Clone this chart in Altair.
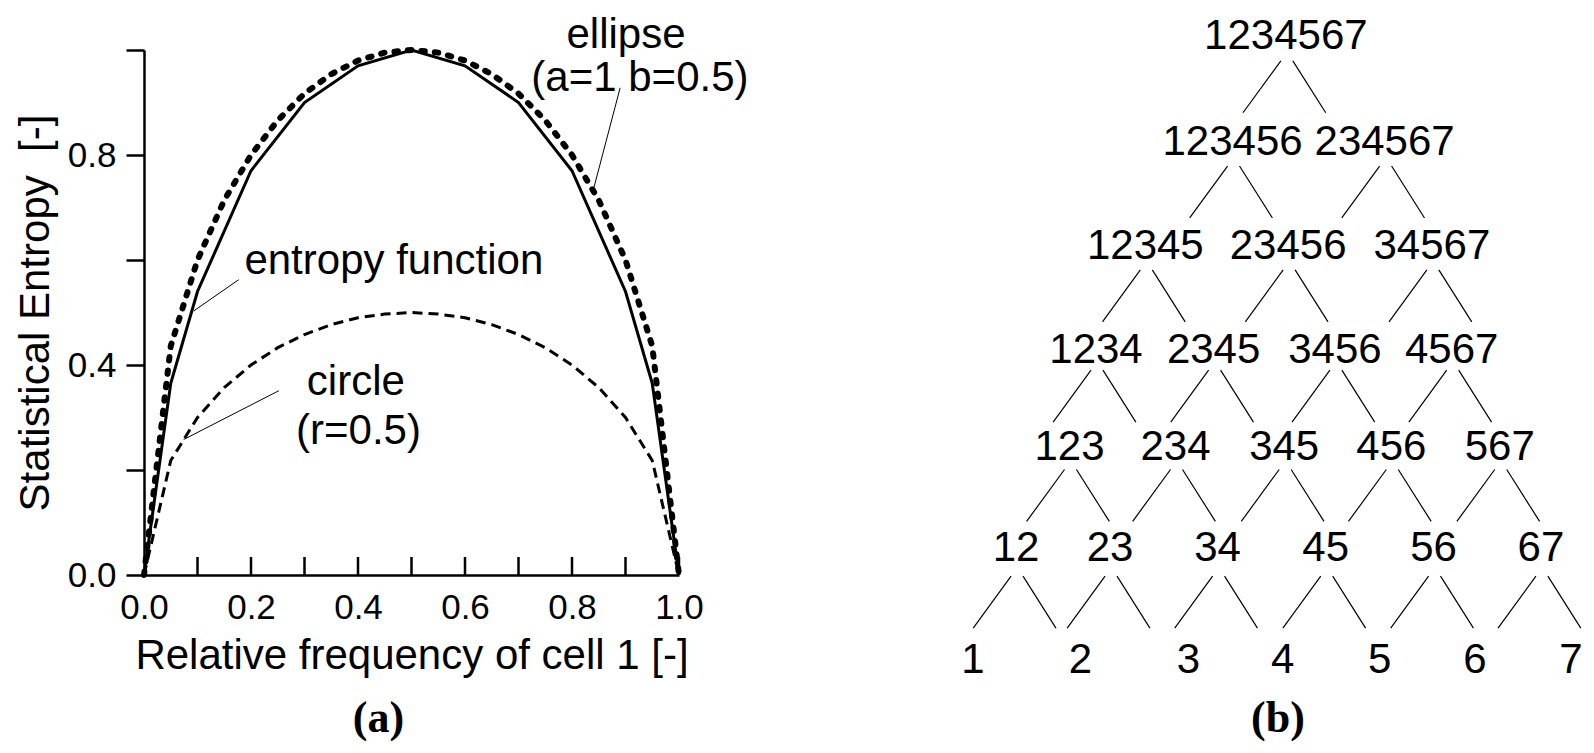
import altair as alt
import pandas as pd

FONT = "Liberation Sans"
SERIF = "Liberation Serif"

# ---------------- Panel (a) data ----------------
p_grid = [0.0, 0.05, 0.1, 0.15, 0.2, 0.25, 0.3, 0.35, 0.4, 0.45, 0.5,
          0.55, 0.6, 0.65, 0.7, 0.75, 0.8, 0.85, 0.9, 0.95, 1.0]
ellipse_vals = [0.0, 0.436, 0.6, 0.714, 0.8, 0.866, 0.917, 0.954, 0.98, 0.995, 1.0,
                0.995, 0.98, 0.954, 0.917, 0.866, 0.8, 0.714, 0.6, 0.436, 0.0]
circle_vals = [0.0, 0.218, 0.3, 0.357, 0.4, 0.433, 0.458, 0.477, 0.49, 0.497, 0.5,
               0.497, 0.49, 0.477, 0.458, 0.433, 0.4, 0.357, 0.3, 0.218, 0.0]
entropy_p = [0.0, 0.05, 0.1, 0.2, 0.3, 0.4, 0.5, 0.6, 0.7, 0.8, 0.9, 0.95, 1.0]
entropy_vals = [0.0, 0.365, 0.54, 0.77, 0.9, 0.97, 1.0, 0.97, 0.9, 0.77, 0.54, 0.365, 0.0]

label_text = ["entropy function", "ellipse", "(a=1 b=0.5)", "circle", "(r=0.5)"]
label_p = [0.467, 0.901, 0.927, 0.396, 0.401]
label_v = [0.574, 1.003, 0.922, 0.342, 0.249]

leader_p = [0.177, 0.890, 0.252]
leader_v = [0.5625, 0.928, 0.351]
leader_p2 = [0.093, 0.841, 0.074]
leader_v2 = [0.503, 0.738, 0.258]

x_label_values = [0.0, 0.2, 0.4, 0.6, 0.8, 1.0]
x_minor_ticks = [0.1, 0.2, 0.3, 0.4, 0.5, 0.6, 0.7, 0.8, 0.9, 1.0]
y_tick_values = [0.0, 0.2, 0.4, 0.6, 0.8, 1.0]

# ---------------- Panel (b) data ----------------
row_levels = [0.0, 1.076, 2.055, 2.989, 3.986, 4.990, 6.012]
row_labels = [
    ["1", "2", "3", "4", "5", "6", "7"],
    ["12", "23", "34", "45", "56", "67"],
    ["123", "234", "345", "456", "567"],
    ["1234", "2345", "3456", "4567"],
    ["12345", "23456", "34567"],
    ["123456", "234567"],
    ["1234567"],
]
row_x = [
    [0.0, 1.077, 2.162, 3.107, 4.080, 5.035, 6.0],
    [0.432, 1.375, 2.454, 3.539, 4.621, 5.698],
    [0.968, 2.032, 3.122, 4.197, 5.285],
    [1.234, 2.414, 3.631, 4.803],
    [1.729, 3.162, 4.604],
    [2.604, 4.130],
    [3.139],
]

# ---------------- build tables ----------------
curves_ent = pd.DataFrame({"p": entropy_p, "v": entropy_vals})
curves_ell = pd.DataFrame({"p": p_grid, "v": ellipse_vals})
curves_cir = pd.DataFrame({"p": p_grid, "v": circle_vals})
labels_df = pd.DataFrame({"p": label_p, "v": label_v, "t": label_text})
leaders_df = pd.DataFrame({"p": leader_p, "v": leader_v, "p2": leader_p2, "v2": leader_v2})
ticks_df = pd.DataFrame({"p": x_minor_ticks})

nodes = []
for lvl, (labs, xs_) in enumerate(zip(row_labels, row_x)):
    for lab, xv in zip(labs, xs_):
        nodes.append({"label": lab, "ux": xv, "uy": row_levels[lvl]})
nodes_df = pd.DataFrame(nodes)

CAP = 0.289      # digit cap height in level units
HALF = 0.25      # half vertical length of a connector
edges = []
for lvl in range(1, len(row_x)):
    vp, vc = row_levels[lvl], row_levels[lvl - 1]
    mid = (vp + vc + CAP) / 2
    for xp in row_x[lvl]:
        x0 = xp - 0.05
        edges.append({"x1": x0, "y1": mid + HALF, "x2": x0 - 0.38, "y2": mid - HALF})
        x0 = xp + 0.07
        edges.append({"x1": x0, "y1": mid + HALF, "x2": x0 + 0.33, "y2": mid - HALF})
edges_df = pd.DataFrame(edges)

# ---------------- Panel (a) chart ----------------
W_A, H_A = 535, 525
xs = alt.Scale(domain=[0, 1], nice=False, zero=False)
ys = alt.Scale(domain=[0, 1], nice=False, zero=False)

x_axis = alt.Axis(
    values=x_label_values, format=".1f", ticks=False, tickSize=0,
    labelPadding=15, labelFont=FONT, labelFontSize=35, labelColor="black",
    labelFlush=False, labelOverlap=False,
    domainColor="black", domainWidth=2.5, grid=False,
    title="Relative frequency of cell 1 [-]", titleFont=FONT, titleFontSize=42,
    titleFontWeight="normal", titleColor="black", titlePadding=10,
)
y_axis = alt.Axis(
    values=y_tick_values,
    labelExpr="(datum.value < 0.01 || abs(datum.value - 0.4) < 0.01 || abs(datum.value - 0.8) < 0.01) ? format(datum.value, '.1f') : ''",
    tickSize=18, tickWidth=2.5, tickColor="black",
    labelPadding=10, labelFont=FONT, labelFontSize=35, labelColor="black",
    labelFlush=False, labelOverlap=False,
    domainColor="black", domainWidth=2.5, grid=False,
    title="Statistical Entropy\u00a0 [-]", titleFont=FONT, titleFontSize=42,
    titleFontWeight="normal", titleColor="black", titlePadding=10,
)
X = alt.X("p:Q", scale=xs, axis=x_axis)
Y = alt.Y("v:Q", scale=ys, axis=y_axis)

ent = alt.Chart(curves_ent).mark_line(color="black", strokeWidth=3).encode(x=X, y=Y)
ell = alt.Chart(curves_ell).mark_line(
    color="black", strokeWidth=6, strokeDash=[3.5, 10], strokeCap="round"
).encode(x=X, y=Y)
cir = alt.Chart(curves_cir).mark_line(
    color="black", strokeWidth=3, strokeDash=[10, 6]
).encode(x=X, y=Y)
inner_ticks = alt.Chart(ticks_df).mark_rule(color="black", strokeWidth=2.5).encode(
    x=X, y=alt.value(H_A - 18), y2=alt.value(H_A)
)
leaders = alt.Chart(leaders_df).mark_rule(color="black", strokeWidth=1).encode(
    x=X, y=Y, x2="p2:Q", y2="v2:Q"
)
texts = alt.Chart(labels_df).mark_text(
    font=FONT, fontSize=42, align="center", baseline="alphabetic", color="black"
).encode(x=X, y=Y, text="t:N")

left = alt.layer(ent, ell, cir, inner_ticks, leaders, texts).properties(
    width=W_A, height=H_A,
    title=alt.TitleParams(
        text="(a)", orient="bottom", anchor="middle", frame="group",
        font=SERIF, fontSize=44, fontWeight="bold", color="black",
        baseline="top", offset=21, dx=-33,
    ),
)

# ---------------- Panel (b) chart ----------------
W_B, H_B = 598, 623
txs = alt.Scale(domain=[0, 6], nice=False, zero=False)
tys = alt.Scale(domain=[0, 6], nice=False, zero=False)

tree_lines = alt.Chart(edges_df).mark_rule(color="black", strokeWidth=1.2).encode(
    x=alt.X("x1:Q", scale=txs, axis=None),
    y=alt.Y("y1:Q", scale=tys, axis=None),
    x2="x2:Q", y2="y2:Q",
)
tree_text = alt.Chart(nodes_df).mark_text(
    font=FONT, fontSize=42, align="center", baseline="alphabetic", color="black"
).encode(
    x=alt.X("ux:Q", scale=txs, axis=None),
    y=alt.Y("uy:Q", scale=tys, axis=None),
    text="label:N",
)
right = alt.layer(tree_lines, tree_text).properties(
    width=W_B, height=H_B,
    title=alt.TitleParams(
        text="(b)", orient="bottom", anchor="middle", frame="group",
        font=SERIF, fontSize=44, fontWeight="bold", color="black",
        baseline="top", offset=16, dx=6,
    ),
)

chart = (
    alt.hconcat(left, right, spacing=212)
    .properties(padding={"left": 6, "top": 6, "right": 0, "bottom": 0}, background="white")
    .configure_view(strokeWidth=0)
)

chart.save("out.html", embed_options={"renderer": "svg", "actions": False})
